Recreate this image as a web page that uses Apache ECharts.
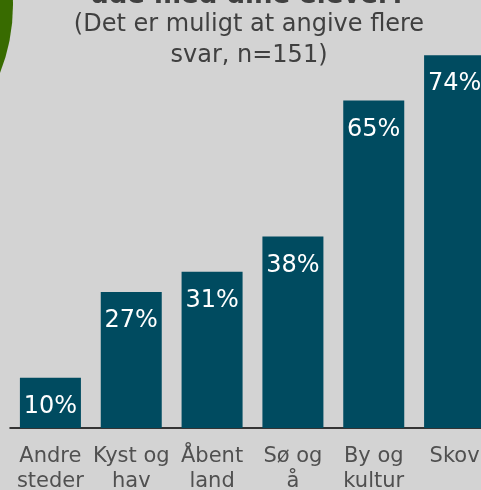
<!DOCTYPE html>
<html>
<head>
<meta charset="utf-8">
<script src="https://cdn.jsdelivr.net/npm/echarts@6/dist/echarts.min.js"></script>
<style>
  html, body { margin: 0; padding: 0; background: #d3d3d3; }
  #chart { width: 481px; height: 490px; }
</style>
</head>
<body>
<div id="chart"></div>
<script>
const categories = ['Andre\nsteder', 'Kyst og\nhav', 'Åbent\nland', 'Sø og\nå', 'By og\nkultur', 'Skov']
const values = [10, 27, 31, 38, 65, 74]
const titleText = 'ude med dine elever?'
const subtitleLines = ['(Det er muligt at angive flere', 'svar, n=151)']

const chart = echarts.init(document.getElementById('chart'))
const font = '"DejaVu Sans", Verdana, sans-serif'

chart.setOption({
  backgroundColor: '#d3d3d3',
  animation: false,
  graphic: [
    {
      type: 'circle',
      shape: { cx: -171, cy: 5, r: 184 },
      style: { fill: '#386b00' },
      silent: true
    },
    {
      type: 'text',
      x: 248, y: -4,
      style: {
        text: titleText, fill: '#404040',
        font: 'bold 26px ' + font,
        align: 'center', verticalAlign: 'middle'
      }
    },
    {
      type: 'text',
      x: 249, y: 25,
      style: {
        text: subtitleLines[0], fill: '#404040',
        font: '24px ' + font,
        align: 'center', verticalAlign: 'middle'
      }
    },
    {
      type: 'text',
      x: 249, y: 56,
      style: {
        text: subtitleLines[1], fill: '#404040',
        font: '24px ' + font,
        align: 'center', verticalAlign: 'middle'
      }
    }
  ],
  grid: { left: 10, top: 25, width: 485, height: 403, containLabel: false, outerBoundsMode: 'none' },
  xAxis: {
    type: 'category',
    data: categories,
    axisTick: { show: false },
    axisLine: { lineStyle: { color: '#000', width: 1.5 } },
    axisLabel: {
      color: '#505050',
      fontFamily: font,
      fontSize: 21,
      lineHeight: 25,
      margin: 16,
      interval: 0
    }
  },
  yAxis: {
    type: 'value',
    min: 0,
    max: 80,
    show: false,
    splitLine: { show: false }
  },
  series: [{
    type: 'bar',
    data: values,
    barWidth: 61,
    itemStyle: { color: '#004b60' },
    label: {
      show: true,
      position: 'insideTop',
      distance: 17,
      color: '#fff',
      fontFamily: font,
      fontSize: 24,
      formatter: '{c}%'
    }
  }]
})
</script>
</body>
</html>
